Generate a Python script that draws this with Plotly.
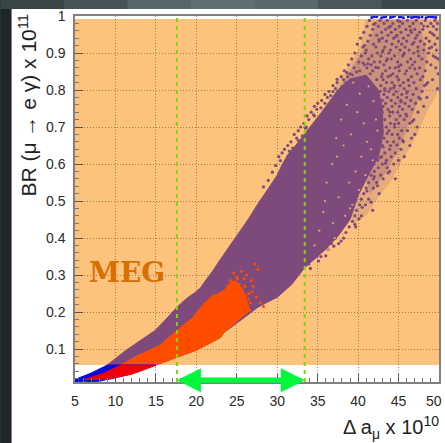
import plotly.graph_objects as go

# --- values ---
x_ticks = [5, 10, 15, 20, 25, 30, 35, 40, 45, 50]
y_ticks = [0.1, 0.2, 0.3, 0.4, 0.5, 0.6, 0.7, 0.8, 0.9, 1]
y_labels = ["0.1", "0.2", "0.3", "0.4", "0.5", "0.6", "0.7", "0.8", "0.9", "1"]

purple_x = [9, 10, 11.2, 12.2, 13.6, 14.9, 16, 16.9, 17.6, 18.3, 19, 19.8, 20.5, 21.2, 22, 22.9, 23.7, 24.5, 25.5, 26.4, 27.4, 28.5, 29.2, 30, 30.6, 31.3, 32.2, 33, 34.2, 35.5, 36.5, 37.5, 39, 41, 42.5, 43, 43.1, 42.5, 41.5, 40, 39, 37.5, 35.9, 34.6, 33.4, 31.8, 30, 28.8, 27.6, 25.5, 23.5, 22.9, 20, 17.6, 15]
purple_y = [.057, .075, .095, .11, .13, .15, .175, .197, .213, .227, .24, .252, .265, .287, .31, .34, .365, .39, .42, .45, .485, .52, .545, .57, .598, .625, .648, .67, .705, .74, .77, .80, .83, .84, .80, .75, .68, .62, .58, .515, .45, .405, .368, .342, .32, .275, .24, .227, .213, .178, .146, .13, .097, .078, .057]

# thinly scattered upper part of the cloud, painted as two even washes
wash_x = [34.0, 36.0, 37.5, 39.0, 40.3, 40.9, 50, 50, 48.5, 47.3, 45.5, 44.3, 42.8, 41.0, 39.5]
wash_y = [.70, .76, .82, .87, .92, .99, .99, .80, .74, .68, .61, .56, .52, .46, .44]
inner_wash_x = [37.5, 39.5, 41.5, 42.3, 47.5, 48.5, 48, 46.5, 45, 43.5, 41.5]
inner_wash_y = [.80, .87, .94, .99, .99, .90, .80, .72, .64, .58, .52]

orange_x = [10.7, 12.5, 14, 15.5, 16.6, 17.6, 18.6, 19.6, 20.8, 22, 22.8, 23.5, 24.2, 24.8, 25.8, 26.6, 25, 23.5, 22.9, 20, 17.6, 15]
orange_y = [.057, .08, .095, .11, .132, .15, .17, .186, .22, .245, .25, .26, .28, .285, .26, .205, .175, .146, .13, .097, .078, .057]

blue_x = [5, 7, 9, 15, 11.4, 8, 5]
blue_y = [.018, .035, .057, .057, .03, .013, .011]
red_x = [6.2, 8.5, 10.7, 15, 12, 9, 6.2]
red_y = [.018, .034, .057, .056, .032, .018, .018]

# sparse scatter, one (BR, [delta a_mu ...]) row at a time
purple_rows = [
    (.988, [41.4, 42.7, 43.6, 44.9, 46.1, 47.2, 48.3, 49.5]),
    (.980, [42.1, 43.2, 44.3, 45.5, 46.8, 47.8, 49.0, 49.8]),
    (.972, [41.1, 42.5, 44.0, 45.1, 46.4, 48.6, 49.3]),
    (.964, [41.8, 43.4, 44.6, 45.9, 47.0, 48.0, 49.7]),
    (.956, [40.7, 42.9, 44.1, 45.3, 46.6, 47.6, 48.9]),
    (.948, [41.5, 42.3, 43.7, 44.8, 46.2, 47.3, 49.4]),
    (.940, [40.3, 43.0, 44.4, 45.6, 47.1, 48.4, 49.8]),
    (.932, [41.2, 42.6, 43.5, 45.0, 46.0, 47.7, 48.8]),
    (.924, [39.9, 41.9, 44.2, 45.4, 46.7, 48.2, 49.5]),
    (.916, [40.6, 42.2, 43.3, 44.7, 45.8, 47.4, 49.1]),
    (.908, [41.0, 43.1, 44.0, 45.2, 46.3, 48.1, 49.7]),
    (.900, [39.6, 40.9, 42.4, 43.8, 45.7, 46.9, 48.7]),
    (.892, [40.4, 41.7, 42.8, 44.5, 45.5, 47.5, 49.3]),
    (.884, [39.2, 41.3, 43.6, 44.1, 46.5, 47.9, 49.9]),
    (.876, [40.1, 42.0, 42.7, 44.9, 46.1, 47.0, 48.5]),
    (.868, [38.8, 40.8, 41.6, 43.2, 45.3, 46.7, 49.0]),
    (.860, [39.5, 41.1, 42.5, 43.9, 44.6, 46.4, 47.6, 49.6]),
    (.852, [38.3, 40.2, 41.8, 43.4, 45.1, 46.0, 48.3]),
    (.844, [39.0, 41.5, 43.0, 44.3, 45.8, 47.3, 49.9]),
    (.836, [37.9, 38.7, 42.9, 43.7, 44.8, 46.6, 48.0]),
    (.828, [38.2, 42.3, 43.1, 45.0, 46.2, 47.7, 49.2]),
    (.820, [37.4, 38.5, 43.5, 44.2, 45.6, 46.9, 48.6]),
    (.812, [36.9, 42.8, 44.5, 45.2, 46.3, 48.2]),
    (.804, [37.2, 43.3, 44.0, 45.7, 47.2, 49.8]),
    (.796, [36.4, 36.9, 42.7, 43.8, 44.7, 46.1, 47.9]),
    (.788, [35.9, 43.2, 44.4, 45.4, 46.8]),
    (.780, [36.2, 43.6, 44.9, 46.0, 47.5, 48.5]),
    (.772, [35.5, 43.0, 44.1, 45.3, 46.5]),
    (.764, [35.0, 35.9, 43.4, 44.6, 45.8, 47.1]),
    (.756, [34.6, 43.1, 44.2, 45.1, 46.3, 48.1]),
    (.748, [34.9, 43.7, 45.5, 46.7]),
    (.740, [34.2, 43.0, 44.3, 44.9, 47.4]),
    (.730, [33.7, 34.6, 42.9, 43.9, 45.2, 46.0]),
    (.720, [33.9, 43.3, 44.7, 45.7, 46.9]),
    (.710, [33.3, 42.8, 44.0, 45.0, 46.4]),
    (.700, [32.9, 33.6, 43.5, 44.5, 47.3]),
    (.690, [32.6, 42.9, 43.8, 45.4, 46.1]),
    (.680, [32.1, 42.7, 44.2, 44.9, 47.0]),
    (.670, [32.4, 43.2, 45.1, 46.6]),
    (.660, [31.7, 42.5, 43.6, 44.4, 45.6]),
    (.650, [31.3, 42.2, 43.0, 44.0, 46.4]),
    (.640, [30.9, 42.6, 43.9, 45.3]),
    (.630, [30.6, 42.0, 43.3, 44.6]),
    (.620, [30.2, 41.8, 42.9, 44.1, 45.7]),
    (.610, [41.5, 42.4, 43.5, 45.0]),
    (.600, [41.9, 43.0, 44.4]),
    (.590, [41.2, 42.5, 43.6]),
    (.580, [41.0, 42.0, 43.9]),
    (.570, [40.7, 41.6, 42.8]),
    (.560, [40.4, 41.9, 43.1, 44.6]),
    (.550, [40.2, 41.3, 42.3]),
    (.535, [40.0, 41.0, 41.9]),
    (.520, [39.9, 40.7, 42.6]),
    (.505, [39.5, 40.4, 41.3]),
    (.490, [39.2, 40.2, 40.9]),
    (.475, [38.9, 39.8, 41.8]),
    (.460, [38.8, 39.6, 40.4]),
    (.445, [38.4, 39.3]),
    (.430, [38.0, 38.9, 39.7]),
    (.415, [37.6, 38.5]),
    (.400, [37.2, 38.2]),
    (.385, [36.7, 37.6]),
    (.370, [36.3]),
    (.350, [34.9, 35.4]),
    (.330, [33.9]),
]

extra_x = [41.9, 43.8, 45.2, 46.5, 48.1, 49.2, 42.6, 44.7, 46.9, 48.8, 40.8, 43.0, 45.6, 47.4, 49.6, 41.2, 43.5, 45.0, 47.0, 44.0, 46.2, 48.4, 39.8, 42.2, 44.4, 46.0, 38.6, 40.6, 43.3, 45.3, 47.7, 37.4, 39.3, 43.9, 45.9, 36.6, 38.0, 44.5, 46.7, 35.4, 43.6, 45.5, 34.5, 43.1, 44.8, 33.5, 33.1, 43.4, 42.7, 32.6, 31.9, 31.5, 42.0, 43.7, 41.1, 42.4, 40.5, 41.6, 39.6, 40.1, 37.9, 37.0, 36.0, 35.1, 34.1, 29.8, 30.4, 29.4, 28.9, 28.3]
extra_y = [.977, .969, .985, .961, .973, .952, .937, .945, .929, .913, .921, .903, .896, .905, .888, .871, .879, .863, .857, .839, .826, .815, .849, .861, .806, .792, .847, .873, .799, .768, .776, .829, .841, .741, .735, .785, .809, .708, .715, .752, .683, .664, .733, .646, .652, .697, .676, .603, .617, .664, .643, .635, .566, .576, .527, .541, .483, .497, .437, .452, .392, .378, .352, .338, .318, .596, .609, .578, .556, .538]

hole_x = [39.4, 40.2, 41.3, 38.6, 39.9, 41.9, 40.7, 37.9, 39.1, 41.1, 42.2, 38.2, 40.4, 41.6, 37.3, 39.7, 40.9, 36.8, 38.9, 40.1, 36.1, 37.6, 39.3, 35.7, 38.4, 36.9, 35.2, 37.1, 39.0, 34.6, 36.3, 38.1, 37.4, 41.8, 42.4, 35.9]
hole_y = [.82, .79, .81, .76, .74, .77, .71, .72, .68, .66, .72, .65, .62, .64, .67, .58, .57, .60, .55, .53, .55, .51, .49, .47, .46, .44, .42, .40, .48, .38, .37, .41, .62, .61, .69, .50]

spark_x = [24.6, 25.1, 25.6, 26.2, 26.8, 27.2, 27.6, 26.0, 26.5, 27.0, 25.3, 25.9, 26.4, 25.0, 24.8, 25.5, 26.1, 26.7, 24.4, 27.9, 28.3, 27.4, 26.9, 25.7, 26.3, 24.9, 25.2, 24.2, 26.6, 23.9]
spark_y = [.305, .29, .31, .30, .285, .33, .315, .27, .25, .27, .275, .29, .235, .295, .265, .255, .245, .225, .28, .225, .215, .24, .255, .225, .215, .26, .24, .285, .205, .27]

blue_top_x = [41.7, 42.0, 42.3, 42.9, 43.2, 43.4, 44.0, 44.3, 44.5, 45.1, 45.3, 45.6, 46.2, 46.6, 46.9, 47.2, 47.5, 47.9, 48.4, 48.7, 49.0, 49.3, 49.6]
blue_top_y = [.996, .998, .998, .995, .997, .998, .996, .998, .999, .997, .998, .995, .998, .996, .997, .998, .996, .997, .995, .998, .998, .997, .996]

meg_label = "MEG"
dashed_x = [17.6, 33.4]
arrow_y = 0.016

# --- plot area in pixels ---
W, H = 445, 443
L, R, T, B = 74.5, 439, 16, 382
XMIN, XMAX, YMIN, YMAX = 5, 50, 0.011, 1.0
GREEN = "#00f83c"


def px(xp):
    return (xp - L) / (R - L)


def py(yp):
    return (B - yp) / (B - T)


def to_px_x(v):
    return L + (v - XMIN) / (XMAX - XMIN) * (R - L)


def to_px_y(v):
    return B - (v - YMIN) / (YMAX - YMIN) * (B - T)


def rect(x0, y0, x1, y1, color):
    return dict(type="rect", xref="paper", yref="paper", layer="below",
                x0=px(x0), x1=px(x1), y0=py(y1), y1=py(y0),
                fillcolor=color, line_width=0)


dots_x, dots_y = list(extra_x), list(extra_y)
for row_y, row_xs in purple_rows:
    dots_x += row_xs
    dots_y += [row_y] * len(row_xs)

shapes = []
# slide backdrop
strip = ["#3a4548", "#465457", "#566669", "#5f7073", "#58686b", "#4a585b", "#3b484b"]
for i, c in enumerate(strip):
    shapes.append(rect(i * W / 7, 0, (i + 1) * W / 7 + 1, 9, c))
shapes.append(rect(0, 9, 11, H, "#1f2628"))
shapes.append(rect(11, 9, W + 2, H + 2, "#ffffff"))
# excluded region
shapes.append(dict(type="rect", xref="x", yref="y", layer="below",
                   x0=XMIN, x1=XMAX, y0=0.057, y1=0.992,
                   fillcolor="#fdc27b", line_width=0))

# double-headed arrow
ya = to_px_y(arrow_y)
xa0, xa1 = to_px_x(dashed_x[0]), to_px_x(dashed_x[1])


def pt(a, b):
    return f"{px(a):.4f},{py(b):.4f}"


arrow = ("M" + pt(xa0, ya) + " L" + pt(xa0 + 24, ya - 12) + " L" + pt(xa0 + 24, ya - 2.6)
         + " L" + pt(xa1 - 24, ya - 2.6) + " L" + pt(xa1 - 24, ya - 12) + " L" + pt(xa1, ya)
         + " L" + pt(xa1 - 24, ya + 12) + " L" + pt(xa1 - 24, ya + 2.6)
         + " L" + pt(xa0 + 24, ya + 2.6) + " L" + pt(xa0 + 24, ya + 12) + " Z")
shapes.append(dict(type="path", xref="paper", yref="paper", layer="above",
                   path=arrow, fillcolor=GREEN, line_width=0))


def poly(xs, ys, color, line=True):
    return go.Scatter(x=xs, y=ys, mode="lines", fill="toself", fillcolor=color,
                      line=dict(color=color if line else "rgba(0,0,0,0)", width=1),
                      hoverinfo="skip", showlegend=False)


def dots(xs, ys, color, size):
    return go.Scatter(x=xs, y=ys, mode="markers", hoverinfo="skip", showlegend=False,
                      marker=dict(color=color, size=size, line_width=0))


PURPLE, ORANGE = "#7e4a7c", "#ff4d00"
fig = go.Figure([
    poly(wash_x, wash_y, "rgba(126,74,124,0.18)", line=False),
    poly(inner_wash_x, inner_wash_y, "rgba(126,74,124,0.28)", line=False),
    poly(purple_x, purple_y, PURPLE),
    dots(dots_x, dots_y, PURPLE, 3.2),
    dots(hole_x, hole_y, "#e0a878", 2.2),
    poly(orange_x, orange_y, ORANGE),
    dots(spark_x, spark_y, ORANGE, 3),
    poly(blue_x, blue_y, "#0a0ae0"),
    poly(red_x, red_y, "#f00008"),
    dots(blue_top_x, blue_top_y, "#1010f0", 3),
])
for xv in dashed_x:
    fig.add_trace(go.Scatter(x=[xv, xv], y=[YMIN, YMAX], mode="lines", hoverinfo="skip",
                             showlegend=False, line=dict(color="#7fd60a", width=2, dash="4px,4px")))

SANS = "Liberation Sans, Arial, sans-serif"
TICKFONT = dict(family=SANS, size=14, color="#2a2a2a")
GRID = "#a67d46"
common = dict(ticks="inside", ticklen=8, tickcolor="#555", showline=True, linecolor="#808080", linewidth=1.5,
              mirror=True, showgrid=True, gridcolor=GRID, griddash="1px,2px", gridwidth=1, zeroline=False,
              tickfont=TICKFONT, automargin=False, ticklabelstandoff=5)
# the last x label would run off the page edge, so it is placed as its own text below
x_text = [str(v) for v in x_ticks[:-1]] + [""]
fig.update_xaxes(range=[XMIN, XMAX], tickmode="array", tickvals=x_ticks, ticktext=x_text,
                 minor=dict(dtick=1, ticks="inside", ticklen=4, tickcolor="#777", showgrid=False), **common)
fig.update_yaxes(range=[YMIN, YMAX], tickmode="array", tickvals=y_ticks, ticktext=y_labels,
                 minor=dict(dtick=0.02, ticks="inside", ticklen=4, tickcolor="#777", showgrid=False), **common)

fig.update_layout(
    width=W, height=H, margin=dict(l=L, r=W - R, t=T, b=H - B, pad=0, autoexpand=False),
    paper_bgcolor="#2d3739", plot_bgcolor="#ffffff", shapes=shapes, showlegend=False,
    annotations=[
        dict(text=meg_label, x=px(127), y=py(272), xref="paper", yref="paper", showarrow=False,
             xanchor="center", yanchor="middle",
             font=dict(family="DejaVu Serif", size=28, color="#d96f00", weight="bold")),
        dict(text="BR (μ → e γ) x 10<sup>11</sup>", x=px(27), y=py(105), xref="paper", yref="paper",
             showarrow=False, textangle=-90, xanchor="center", yanchor="middle",
             font=dict(family=SANS, size=21, color="#222")),
        dict(text="Δ a<sub>μ</sub> x 10<sup>10</sup>", x=px(441), y=py(427), xref="paper", yref="paper",
             showarrow=False, xanchor="right", yanchor="middle",
             font=dict(family=SANS, size=20, color="#222")),
        dict(text=str(x_ticks[-1]), x=px(444.5), y=py(401), xref="paper", yref="paper",
             showarrow=False, xanchor="right", yanchor="middle", font=TICKFONT),
    ],
)

fig.write_html("out.html", config={"displayModeBar": False},
               post_script="document.body.style.margin='0';document.body.style.overflow='hidden';document.documentElement.style.overflow='hidden';")
